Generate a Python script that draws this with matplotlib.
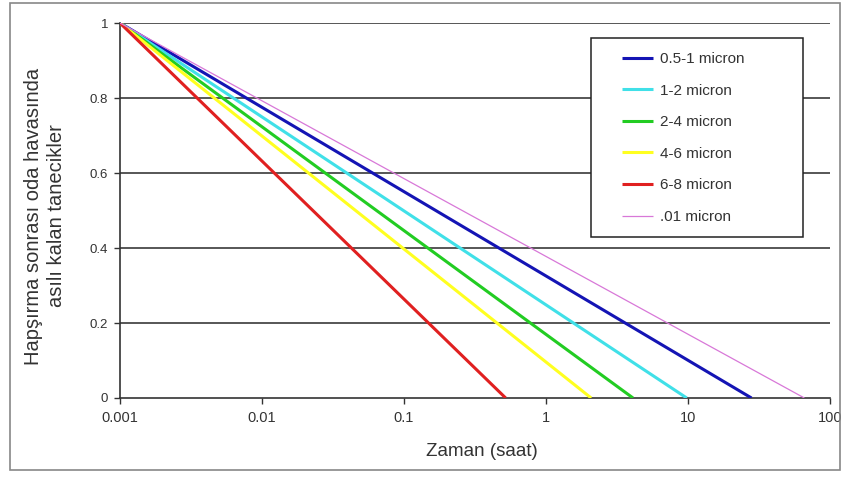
import matplotlib
matplotlib.use("Agg")
import matplotlib.pyplot as plt
from matplotlib.patches import Rectangle

plt.rcParams['font.family'] = ['Liberation Sans', 'DejaVu Sans']

labels = ["0.5-1 micron", "1-2 micron", "2-4 micron", "4-6 micron", "6-8 micron", ".01 micron"]
colors = ["#1414B4", "#40E0E8", "#22CC22", "#FFFF20", "#E02020", "#D878D8"]
widths = [2.2, 2.2, 2.2, 2.2, 2.2, 0.9]
start_time = 0.001
end_times = [28, 9.8, 4.1, 2.08, 0.52, 66]
start_value = 1.0
end_value = 0.0

x_ticks = [0.001, 0.01, 0.1, 1, 10, 100]
x_ticklabels = ["0.001", "0.01", "0.1", "1", "10", "100"]
y_ticks = [0, 0.2, 0.4, 0.6, 0.8, 1.0]
y_ticklabels = ["0", "0.2", "0.4", "0.6", "0.8", "1"]

W, H = 847, 479
fig = plt.figure(figsize=(W / 100, H / 100), dpi=100)
ax = fig.add_axes([120 / W, 1 - 398 / H, 710 / W, 375 / H])

for lab, c, w, te in zip(labels, colors, widths, end_times):
    ax.plot([start_time, te], [start_value, end_value], color=c, lw=w, label=lab,
            solid_capstyle='butt', zorder=3)

ax.set_xscale('log')
ax.set_xlim(0.001, 100)
ax.set_ylim(0, 1)
ax.set_xticks(x_ticks)
ax.set_xticklabels(x_ticklabels)
ax.xaxis.set_minor_locator(matplotlib.ticker.NullLocator())
ax.set_yticks(y_ticks)
ax.set_yticklabels(y_ticklabels)
ax.tick_params(axis='x', labelsize=10.5, colors='#333333', labelcolor='#333333',
               length=4, width=1, direction='out', pad=5)
ax.tick_params(axis='y', labelsize=9.5, colors='#333333', labelcolor='#333333',
               length=4, width=1, direction='out', pad=4.5)

for y in y_ticks[1:]:
    ax.axhline(y, color='#3a3a3a', lw=1.2, zorder=1)

ax.spines['right'].set_visible(False)
ax.spines['top'].set_visible(False)
for s in ('left', 'bottom'):
    ax.spines[s].set_color('#333333')
    ax.spines[s].set_linewidth(1.2)

fig.text(482 / W, 1 - 451 / H, "Zaman (saat)", fontsize=13.5, color='#333333',
         ha='center', va='center')
fig.text(45 / W, 1 - 216 / H, "Hapşırma sonrası oda havasında\nasılı kalan tanecikler",
         fontsize=14.5, color='#333333', rotation=90, ha='center', va='center',
         multialignment='center', linespacing=1.3)

# legend frame
ax.add_patch(Rectangle(((591 - 120) / 710, (398 - 237) / 375), 212 / 710, 199 / 375,
                       transform=ax.transAxes, facecolor='white', edgecolor='#222222',
                       lw=1.1, zorder=4))
leg = ax.legend(loc='upper left', bbox_to_anchor=((622 - 120) / 710, (398 - 52) / 375),
                fontsize=11, labelspacing=1.15, handlelength=2.05, handletextpad=0.45,
                borderpad=0, borderaxespad=0, frameon=False)
leg.set_zorder(5)
for t in leg.get_texts():
    t.set_color('#333333')

fig.patches.append(Rectangle((10 / W, 1 - 470 / H), 830 / W, 467 / H, transform=fig.transFigure,
                             fill=False, edgecolor='#888888', lw=1.2))

fig.savefig("out.png", dpi=100)
